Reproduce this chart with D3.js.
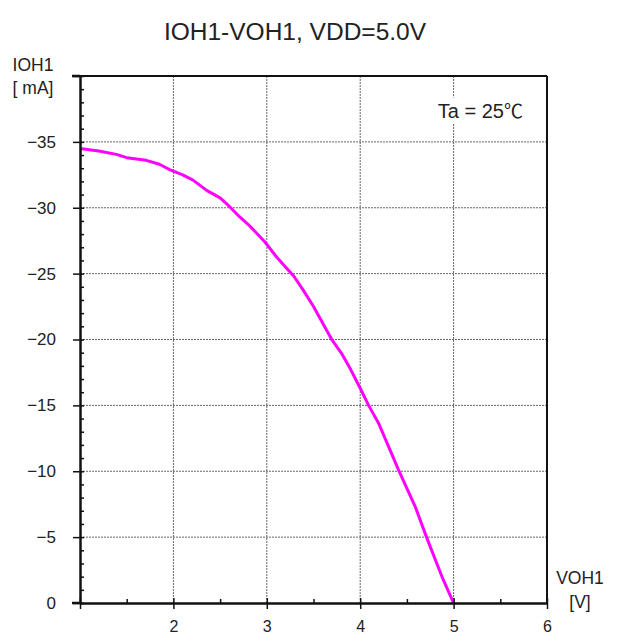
<!DOCTYPE html>
<html>
<head>
<meta charset="utf-8">
<script src="https://cdn.jsdelivr.net/npm/d3@7"></script>
<style>
  body { margin: 0; background: #fff; }
  svg { display: block; }
  text { font-family: "Liberation Sans", Arial, sans-serif; fill: #222; }
</style>
</head>
<body>
<div id="chart"></div>
<script>
// data
const voltage = [1.0, 1.2, 1.39, 1.5, 1.71, 1.85, 1.96, 2.1, 2.21, 2.36, 2.5, 2.6, 2.71, 2.82, 2.98, 3.1, 3.2, 3.29, 3.39, 3.5, 3.59, 3.7, 3.8, 3.9, 4.0, 4.09, 4.2, 4.32, 4.41, 4.5, 4.59, 4.71, 4.82, 4.89, 5.0];
const current = [-34.5, -34.3, -34.05, -33.8, -33.6, -33.3, -32.9, -32.5, -32.1, -31.3, -30.75, -30.1, -29.3, -28.6, -27.4, -26.3, -25.5, -24.8, -23.75, -22.5, -21.35, -19.95, -18.95, -17.7, -16.3, -15.0, -13.6, -11.6, -10.1, -8.7, -7.3, -5.0, -3.0, -1.75, 0];

const xTicks = [1, 2, 3, 4, 5, 6];
const yTicks = [0, -5, -10, -15, -20, -25, -30, -35, -40];
const xLabels = ["", "2", "3", "4", "5", "6"];
const yLabels = ["0", "\u22125", "\u221210", "\u221215", "\u221220", "\u221225", "\u221230", "\u221235", ""];

(() => {

  const width = 620, height = 634;
  const margin = {top: 76, right: 73, bottom: 31, left: 80};
  const innerW = width - margin.left - margin.right;
  const innerH = height - margin.top - margin.bottom;

  const svg = d3.select("#chart")
    .append("svg")
    .attr("width", width)
    .attr("height", height);

  const graph = svg.append("g")
    .attr("transform", `translate(${margin.left},${margin.top})`);

  const x = d3.scaleLinear()
    .domain([1, 6])
    .range([0, innerW]);

  const y = d3.scaleLinear()
    .domain([0, -40])
    .range([innerH, 0]);

  // grid
  graph.append("g")
    .selectAll("line")
    .data(xTicks.slice(1, -1))
    .enter()
    .append("line")
    .attr("x1", d => x(d)).attr("x2", d => x(d))
    .attr("y1", 0).attr("y2", innerH)
    .attr("stroke", "#666")
    .attr("stroke-width", 1)
    .attr("stroke-dasharray", "2,1");

  graph.append("g")
    .selectAll("line")
    .data(yTicks.slice(1, -1))
    .enter()
    .append("line")
    .attr("x1", 0).attr("x2", innerW)
    .attr("y1", d => y(d)).attr("y2", d => y(d))
    .attr("stroke", "#666")
    .attr("stroke-width", 1)
    .attr("stroke-dasharray", "2,1");

  // frame top / right
  graph.append("line")
    .attr("x1", 0).attr("x2", innerW).attr("y1", 0).attr("y2", 0)
    .attr("stroke", "#111").attr("stroke-width", 2);
  graph.append("line")
    .attr("x1", innerW).attr("x2", innerW).attr("y1", 0).attr("y2", innerH)
    .attr("stroke", "#111").attr("stroke-width", 2);

  // Ta label with white background (cuts the grid line)
  const ta = graph.append("g")
    .attr("transform", `translate(${innerW - 24},${y(-36.85)})`);
  ta.append("rect")
    .attr("x", -102).attr("y", -20).attr("width", 104).attr("height", 26)
    .attr("fill", "#fff");
  const taText = ta.append("text")
    .attr("text-anchor", "end")
    .style("font-size", "20px");
  taText.append("tspan").text("Ta = 25");
  taText.append("tspan")
    .style("font-family", "'Noto Sans CJK KR', sans-serif")
    .style("font-size", "19px")
    .text("\u2103");

  // curve
  const line = d3.line()
    .x((d, i) => x(voltage[i]))
    .y(d => y(d));

  graph.append("path")
    .datum(current)
    .attr("fill", "none")
    .attr("stroke", "#ff00ff")
    .attr("stroke-width", 3)
    .attr("stroke-linejoin", "round")
    .attr("d", line);

  // minor ticks
  const minorY = d3.range(0, -41, -1);
  graph.append("g")
    .call(d3.axisRight(y).tickValues(minorY).tickSize(4).tickFormat(""))
    .call(g => g.select(".domain").remove())
    .selectAll("line").attr("stroke", "#111").attr("stroke-width", 1.5);

  const minorX = d3.range(1.5, 6, 1);
  graph.append("g")
    .attr("transform", `translate(0,${innerH})`)
    .call(d3.axisTop(x).tickValues(minorX).tickSize(4).tickFormat(""))
    .call(g => g.select(".domain").remove())
    .selectAll("line").attr("stroke", "#111").attr("stroke-width", 1.5);

  // axes
  const axeY = d3.axisLeft(y)
    .tickValues(yTicks)
    .tickSizeInner(7)
    .tickSizeOuter(0)
    .tickPadding(17)
    .tickFormat((d, i) => yLabels[i]);

  const groupeY = graph.append("g").call(axeY);
  groupeY.select(".domain").attr("stroke", "#111").attr("stroke-width", 2.5);
  groupeY.selectAll(".tick line").attr("stroke", "#111").attr("stroke-width", 1.5).attr("x1", -7).attr("x2", 2);
  groupeY.selectAll("text").style("font-size", "17px").attr("fill", "#222");

  const axeX = d3.axisBottom(x)
    .tickValues(xTicks)
    .tickSizeInner(6)
    .tickSizeOuter(0)
    .tickPadding(12)
    .tickFormat((d, i) => xLabels[i]);

  const groupeX = graph.append("g")
    .attr("transform", `translate(0,${innerH})`)
    .call(axeX);
  groupeX.select(".domain").attr("stroke", "#111").attr("stroke-width", 2.5);
  groupeX.selectAll(".tick line").attr("stroke", "#111").attr("stroke-width", 1.5).attr("y1", -5);
  groupeX.selectAll("text")
    .attr("dy", null)
    .attr("y", 29)
    .style("font-size", "16px")
    .attr("fill", "#222");

  // extend axis lines slightly past origin
  graph.append("line")
    .attr("x1", -8).attr("x2", 0).attr("y1", innerH).attr("y2", innerH)
    .attr("stroke", "#111").attr("stroke-width", 2.5);
  graph.append("line")
    .attr("x1", -8).attr("x2", 0).attr("y1", 0).attr("y2", 0)
    .attr("stroke", "#111").attr("stroke-width", 2.5);

  // titles
  svg.append("text")
    .attr("x", 295).attr("y", 40)
    .attr("text-anchor", "middle")
    .style("font-size", "24.5px")
    .text("IOH1-VOH1, VDD=5.0V");

  svg.append("text")
    .attr("x", 33).attr("y", 71)
    .attr("text-anchor", "middle")
    .style("font-size", "17.5px")
    .text("IOH1");
  svg.append("text")
    .attr("x", 33).attr("y", 94)
    .attr("text-anchor", "middle")
    .style("font-size", "17.5px")
    .text("[ mA]");

  svg.append("text")
    .attr("x", 580).attr("y", 584)
    .attr("text-anchor", "middle")
    .style("font-size", "17.5px")
    .text("VOH1");
  svg.append("text")
    .attr("x", 580).attr("y", 608)
    .attr("text-anchor", "middle")
    .style("font-size", "17.5px")
    .text("[V]");

})();
</script>
</body>
</html>
